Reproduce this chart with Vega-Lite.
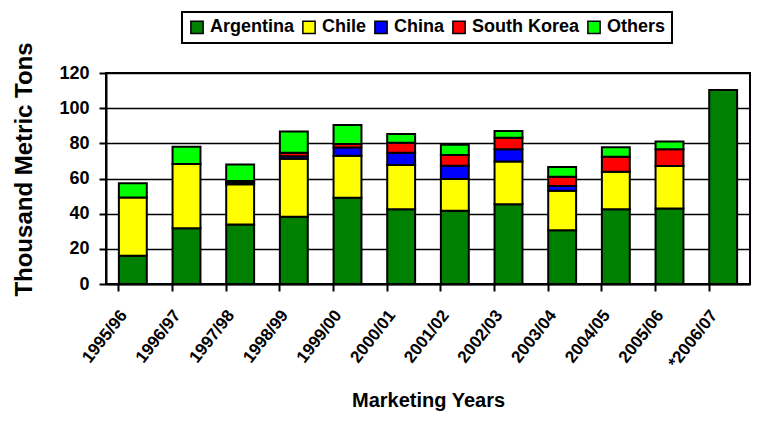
{
  "$schema": "https://vega.github.io/schema/vega-lite/v6.json",
  "width": 644,
  "height": 211,
  "autosize": {"type": "none"},
  "padding": {"left": 106, "top": 73, "right": 16, "bottom": 137},
  "background": "white",
  "config": {
    "font": "Liberation Sans",
    "view": {"stroke": "black", "strokeWidth": 2}
  },
  "data": {
    "values": [
      {"year": "1995/96", "country": "Argentina", "value": 16.0},
      {"year": "1995/96", "country": "Chile", "value": 33.2},
      {"year": "1995/96", "country": "Others", "value": 8.1},
      {"year": "1996/97", "country": "Argentina", "value": 31.7},
      {"year": "1996/97", "country": "Chile", "value": 36.6},
      {"year": "1996/97", "country": "Others", "value": 9.8},
      {"year": "1997/98", "country": "Argentina", "value": 33.9},
      {"year": "1997/98", "country": "Chile", "value": 22.8},
      {"year": "1997/98", "country": "China", "value": 0.9},
      {"year": "1997/98", "country": "South Korea", "value": 1.0},
      {"year": "1997/98", "country": "Others", "value": 9.4},
      {"year": "1998/99", "country": "Argentina", "value": 38.3},
      {"year": "1998/99", "country": "Chile", "value": 33.0},
      {"year": "1998/99", "country": "China", "value": 1.4},
      {"year": "1998/99", "country": "South Korea", "value": 2.0},
      {"year": "1998/99", "country": "Others", "value": 12.1},
      {"year": "1999/00", "country": "Argentina", "value": 49.1},
      {"year": "1999/00", "country": "Chile", "value": 23.9},
      {"year": "1999/00", "country": "China", "value": 4.6},
      {"year": "1999/00", "country": "South Korea", "value": 2.0},
      {"year": "1999/00", "country": "Others", "value": 10.8},
      {"year": "2000/01", "country": "Argentina", "value": 42.5},
      {"year": "2000/01", "country": "Chile", "value": 25.2},
      {"year": "2000/01", "country": "China", "value": 7.0},
      {"year": "2000/01", "country": "South Korea", "value": 5.7},
      {"year": "2000/01", "country": "Others", "value": 4.9},
      {"year": "2001/02", "country": "Argentina", "value": 41.7},
      {"year": "2001/02", "country": "Chile", "value": 18.0},
      {"year": "2001/02", "country": "China", "value": 7.6},
      {"year": "2001/02", "country": "South Korea", "value": 6.1},
      {"year": "2001/02", "country": "Others", "value": 5.8},
      {"year": "2002/03", "country": "Argentina", "value": 45.3},
      {"year": "2002/03", "country": "Chile", "value": 24.3},
      {"year": "2002/03", "country": "China", "value": 7.0},
      {"year": "2002/03", "country": "South Korea", "value": 6.6},
      {"year": "2002/03", "country": "Others", "value": 3.8},
      {"year": "2003/04", "country": "Argentina", "value": 30.5},
      {"year": "2003/04", "country": "Chile", "value": 22.6},
      {"year": "2003/04", "country": "China", "value": 2.6},
      {"year": "2003/04", "country": "South Korea", "value": 5.3},
      {"year": "2003/04", "country": "Others", "value": 5.6},
      {"year": "2004/05", "country": "Argentina", "value": 42.5},
      {"year": "2004/05", "country": "Chile", "value": 21.4},
      {"year": "2004/05", "country": "South Korea", "value": 8.5},
      {"year": "2004/05", "country": "Others", "value": 5.4},
      {"year": "2005/06", "country": "Argentina", "value": 43.0},
      {"year": "2005/06", "country": "Chile", "value": 24.1},
      {"year": "2005/06", "country": "South Korea", "value": 9.5},
      {"year": "2005/06", "country": "Others", "value": 4.4},
      {"year": "*2006/07", "country": "Argentina", "value": 110.4}
    ]
  },
  "transform": [
    {"calculate": "indexof(['Argentina','Chile','China','South Korea','Others'], datum.country)", "as": "stackOrder"}
  ],
  "mark": {"type": "bar", "stroke": "black", "strokeWidth": 2},
  "encoding": {
    "x": {
      "field": "year",
      "type": "nominal",
      "sort": null,
      "scale": {"paddingInner": 0.48, "paddingOuter": 0.24},
      "axis": {
        "title": "Marketing Years",
        "titleFontSize": 20,
        "titleFontWeight": "bold",
        "titleColor": "black",
        "titleY": 106,
        "titleBaseline": "top",
        "labelAngle": -52,
        "labelAlign": "right",
        "labelBaseline": "middle",
        "labelFontSize": 17,
        "labelFontWeight": "bold",
        "labelColor": "black",
        "labelPadding": 21,
        "labelOffset": -9,
        "bandPosition": 0,
        "domainColor": "black",
        "domainWidth": 2,
        "tickColor": "black",
        "tickWidth": 2,
        "tickSize": 7
      }
    },
    "y": {
      "field": "value",
      "type": "quantitative",
      "stack": "zero",
      "scale": {"domain": [0, 120], "nice": false},
      "axis": {
        "title": "Thousand Metric Tons",
        "titleFontSize": 24,
        "titleFontWeight": "bold",
        "titleColor": "black",
        "titleX": -70,
        "titleY": 96,
        "titleAngle": -90,
        "titleAlign": "center",
        "titleBaseline": "bottom",
        "values": [0, 20, 40, 60, 80, 100, 120],
        "labelFontSize": 18,
        "labelFontWeight": "bold",
        "labelColor": "black",
        "labelPadding": 10,
        "domainColor": "black",
        "domainWidth": 2,
        "tickColor": "black",
        "tickWidth": 2,
        "tickSize": 7,
        "grid": true,
        "gridColor": "black",
        "gridWidth": 1.5,
        "gridOpacity": 1
      }
    },
    "order": {"field": "stackOrder", "type": "quantitative", "sort": "ascending"},
    "color": {
      "field": "country",
      "type": "nominal",
      "scale": {
        "domain": ["Argentina", "Chile", "China", "South Korea", "Others"],
        "range": ["#008000", "#FFFF00", "#0000FF", "#FF0000", "#00FF00"]
      },
      "legend": {
        "title": null,
        "orient": "none",
        "direction": "horizontal",
        "legendX": 76,
        "legendY": -61,
        "strokeColor": "black",
        "fillColor": "white",
        "padding": 6,
        "symbolType": "square",
        "symbolSize": 150,
        "symbolStrokeColor": "black",
        "symbolStrokeWidth": 1.5,
        "symbolOpacity": 1,
        "labelFontSize": 18,
        "labelFontWeight": "bold",
        "labelColor": "black",
        "labelOffset": 4,
        "columnPadding": 4,
        "encode": {"legend": {"update": {"strokeWidth": {"value": 2}}}}
      }
    }
  }
}
